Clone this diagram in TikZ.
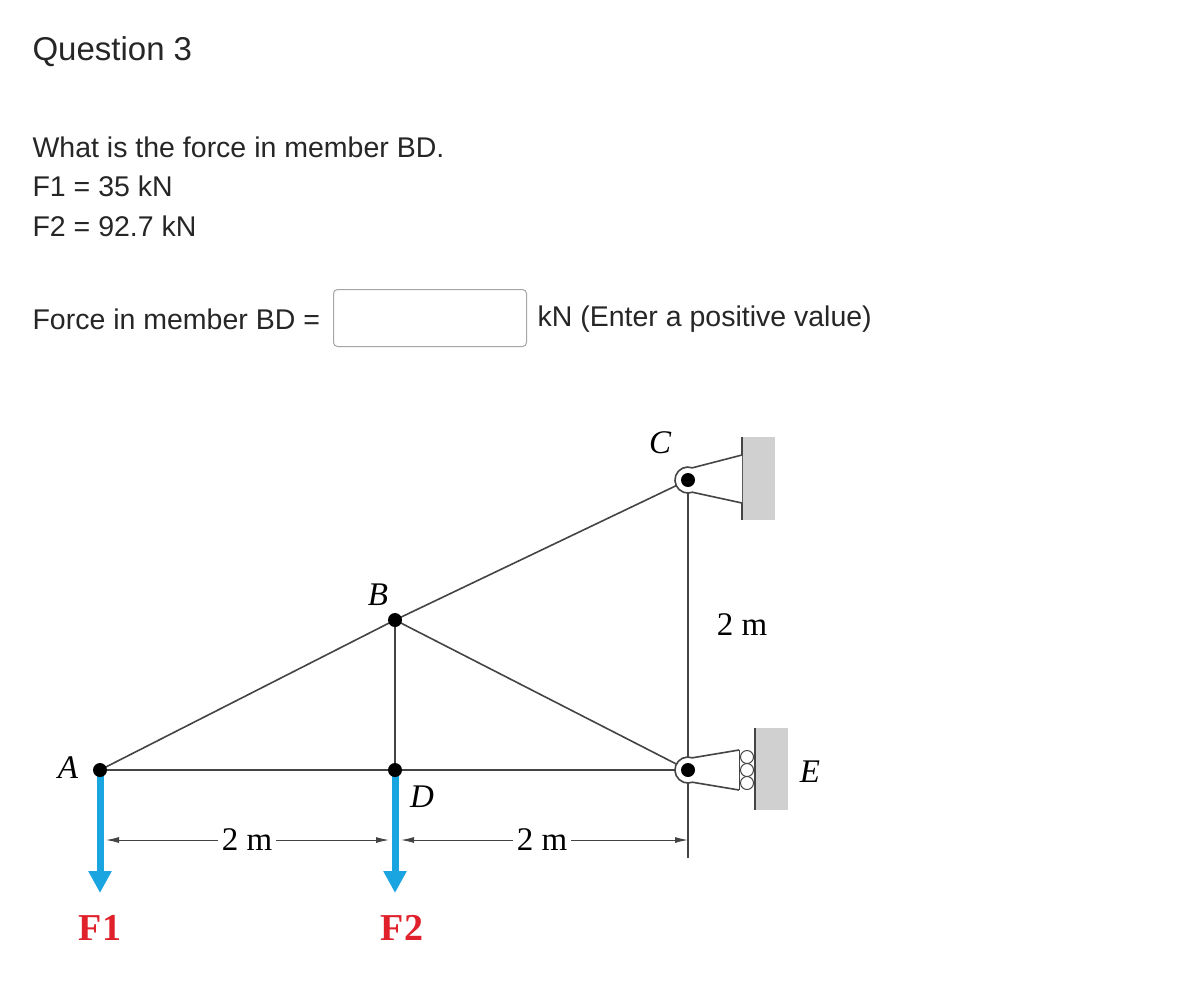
\documentclass[tikz,border=0pt]{standalone}
\usepackage{fontspec}
\setmainfont{Liberation Sans}
\newfontfamily\serifit{Liberation Serif}
\usetikzlibrary{arrows.meta}
\definecolor{fblue}{HTML}{1AA5E0}
\definecolor{fred}{HTML}{E0202A}
\definecolor{wallgray}{HTML}{D0D0D0}
\definecolor{mem}{HTML}{444444}
\tikzset{
  member/.style={draw=mem,line width=1.6pt},
  joint/.style={circle,fill=black,inner sep=0pt,minimum size=14pt},
  lab/.style={font=\serifit\itshape\fontsize{33}{33}\selectfont},
  dimtxt/.style={font=\serifit\fontsize{33}{33}\selectfont,fill=white,inner sep=4pt},
  ui/.style={anchor=west,font=\fontsize{28.5}{28.5}\selectfont,text=black!85},
  force/.style={draw=fblue,line width=7pt,-{Triangle[length=22pt,width=22pt]}},
  flab/.style={font=\serifit\bfseries\fontsize{38}{38}\selectfont,text=fred},
  dimarr/.style={draw=mem,line width=1pt,-{Latex[length=13pt,width=6pt]}}
}
\begin{document}
\begin{tikzpicture}[x=1pt,y=-1pt]
\useasboundingbox (0,0) rectangle (1202,1005);
\fill[white] (0,0) rectangle (1202,1005);
\node[ui,font=\fontsize{33}{33}\selectfont] (q) at (29,52) {Question 3};
\node[ui] (t1) at (29,147) {What is the force in member BD.};
\node[ui] (t2) at (29,186) {F1 = 35 kN};
\node[ui] (t3) at (29,226) {F2 = 92.7 kN};
\node[ui] (t4) at (29,319) {Force in member BD =};
\node[draw=gray!70,rounded corners=4pt,line width=1pt,minimum width=193pt,minimum height=57pt] (box) at (430,318) {};
\node[ui] (t5) at (534,319) {kN (Enter a positive value)};
% geometry
\coordinate (A) at (100,770);
\coordinate (B) at (395,620);
\coordinate (D) at (395,770);
\coordinate (C) at (688,480);
\coordinate (Ej) at (688,770);
\coordinate (Cb) at (688,858);
% members
\draw[member] (A) -- (B) -- (C);
\draw[member] (A) -- (Ej);
\draw[member] (B) -- (D);
\draw[member] (B) -- (Ej);
\draw[member] (C) -- (Cb);
% supports
\fill[wallgray] (742,437) rectangle (775,520);
\draw[member] (742,437) -- (742,520);
\draw[member,fill=white] (742,455) -- (692.4,467.8) arc (-70:-290:13) -- (742,503);
\fill[wallgray] (755,728) rectangle (788,810);
\draw[member] (755,728) -- (755,810);
\draw[member,fill=white] (739,750) -- (692.4,757.8) arc (-70:-290:13) -- (739,790);
\foreach \yy in {757,770,783} \draw[draw=mem,line width=1pt,fill=white] (747,\yy) circle (6.5);
\draw[draw=mem,line width=1pt] (739,750) -- (739,790);
% forces
\draw[force] (D) -- (395,893);
\draw[force] (A) -- (100,893);
% joints
\node[joint] (jA) at (A) {};
\node[joint] (jB) at (B) {};
\node[joint] (jD) at (D) {};
\node[joint] (jC) at (C) {};
\node[joint] (jE) at (Ej) {};
% dimensions
\coordinate (d1) at (106,840);
\coordinate (d2) at (389,840);
\coordinate (d3) at (401,840);
\coordinate (d4) at (688,840);
\coordinate (m1) at (247,840);
\coordinate (m2) at (542,840);
\draw[dimarr] (m1) -- (d1);
\draw[dimarr] (m1) -- (d2);
\draw[dimarr] (m2) -- (d3);
\draw[dimarr] (m2) -- (d4);
\node[dimtxt] (l1) at (m1) {2 m};
\node[dimtxt] (l2) at (m2) {2 m};
\node[dimtxt] (l3) at (742,625) {2 m};
% labels
\node[lab] (LA) at (68,768) {A};
\node[lab] (LB) at (378,595) {B};
\node[lab] (LD) at (422,797) {D};
\node[lab] (LC) at (660,443) {C};
\node[lab] (LE) at (810,772) {E};
\node[flab] (F1) at (100,928) {F1};
\node[flab] (F2) at (402,928) {F2};
\end{tikzpicture}
\end{document}
